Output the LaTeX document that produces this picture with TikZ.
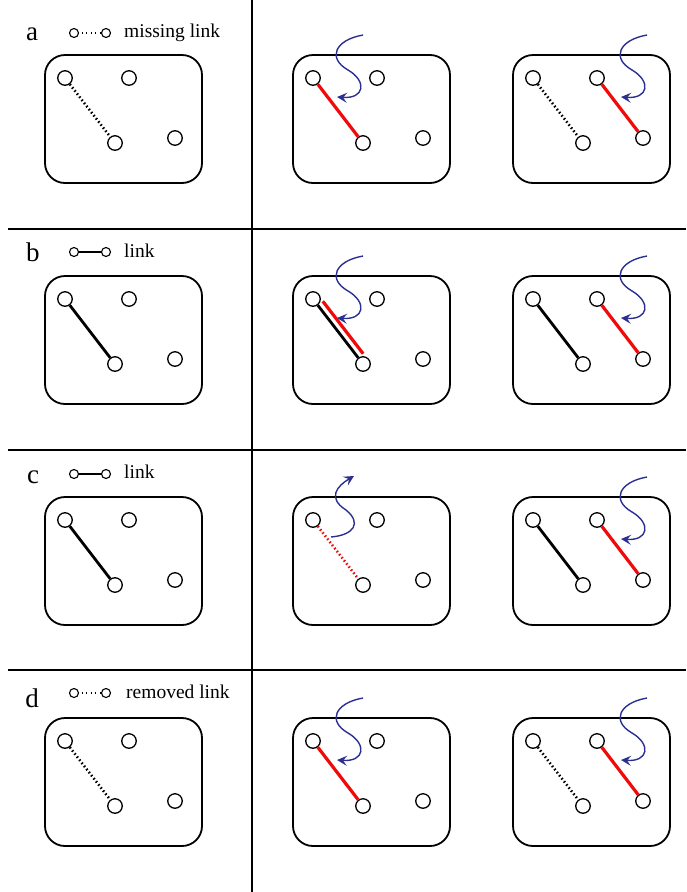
\documentclass[tikz,border=0pt]{standalone}
\usepackage{fontspec}
\setmainfont{Liberation Serif}
\usetikzlibrary{arrows.meta}
\definecolor{flowblue}{RGB}{43,47,145}
\definecolor{linkred}{RGB}{240,10,10}
\tikzset{
  vtx/.style={circle,draw,line width=1.3pt,minimum size=14.5pt,inner sep=0pt},
  legvtx/.style={circle,draw,line width=1.1pt,minimum size=9pt,inner sep=0pt},
  frame/.style={draw,line width=1.8pt,rounded corners=20pt},
  link/.style={line width=2.8pt},
  missing/.style={line width=2.6pt,dash pattern=on 1.5pt off 2.4pt},
  legmissing/.style={line width=1.1pt,dash pattern=on 1pt off 3.6pt,dash phase=-2.5pt},
  newlink/.style={link,draw=linkred,line width=3.2pt},
  divider/.style={line width=1.6pt},
  wiggle/.style={draw=flowblue,line width=1.4pt,-{Stealth[length=10pt,width=10pt,inset=4pt]}},
  rowlabel/.style={font=\fontsize{27}{30}\selectfont,anchor=base,inner sep=0pt},
  legtext/.style={font=\fontsize{19.5}{22}\selectfont,anchor=base west,inner sep=0pt},
  inflow/.pic={\draw[wiggle] (50,-43) .. controls (22,-38) and (14,-20) .. (35,-8)
      .. controls (54,3) and (52,21) .. (24,19);},
  outflow/.pic={\draw[wiggle] (18,17) .. controls (41,15) and (49,3) .. (33,-10)
      .. controls (14,-22) and (24,-34) .. (41,-44);}
}
\begin{document}
\begin{tikzpicture}[x=1pt,y=-1pt]
  \useasboundingbox (0,0) rectangle (686,892);
  % grid of the figure
  \draw[divider] (252,0) -- (252,892);
  \draw[divider] (8,229) -- (686,229);
  \draw[divider] (8,450) -- (686,450);
  \draw[divider] (8,670) -- (686,670);
  % frames with their four vertices
  \foreach \r/\y in {a/55,b/276,c/497,d/718}
    \foreach \p/\x in {1/45,2/293,3/513} {
      \draw[frame] (\x,\y) rectangle ++(157,128);
      \node[vtx] (\r\p-1) at (\x+20,\y+23) {};
      \node[vtx] (\r\p-2) at (\x+84,\y+23) {};
      \node[vtx] (\r\p-3) at (\x+70,\y+88) {};
      \node[vtx] (\r\p-4) at (\x+130,\y+83) {};
    }
  % row a
  \node[rowlabel] (la) at (32,40) {a};
  \node[legvtx] (la-1) at (74,33) {};
  \node[legvtx] (la-2) at (106,33) {};
  \draw[legmissing] (la-1) -- (la-2);
  \node[legtext] at (124,37.5) {missing link};
  \draw[missing] (a1-1) -- (a1-3);
  \draw[newlink] (a2-1) -- (a2-3);
  \pic at (a2-1) {inflow};
  \draw[missing] (a3-1) -- (a3-3);
  \draw[newlink] (a3-2) -- (a3-4);
  \pic at (a3-2) {inflow};
  % row b
  \node[rowlabel] (lb) at (33,261.5) {b};
  \node[legvtx] (lb-1) at (74,252) {};
  \node[legvtx] (lb-2) at (106,252) {};
  \draw[line width=1.3pt] (lb-1) -- (lb-2);
  \node[legtext] at (124,257.5) {link};
  \draw[link] (b1-1) -- (b1-3);
  \draw[link] (b2-1) -- (b2-3);
  \draw[newlink,transform canvas={xshift=5pt,yshift=4pt}] (b2-1) -- (b2-3);
  \pic at (b2-1) {inflow};
  \draw[link] (b3-1) -- (b3-3);
  \draw[newlink] (b3-2) -- (b3-4);
  \pic at (b3-2) {inflow};
  % row c
  \node[rowlabel] (lc) at (33,483) {c};
  \node[legvtx] (lc-1) at (74,474) {};
  \node[legvtx] (lc-2) at (106,474) {};
  \draw[line width=1.3pt] (lc-1) -- (lc-2);
  \node[legtext] at (124,478.5) {link};
  \draw[link] (c1-1) -- (c1-3);
  \draw[missing,draw=linkred] (c2-1) -- (c2-3);
  \pic at (c2-1) {outflow};
  \draw[link] (c3-1) -- (c3-3);
  \draw[newlink] (c3-2) -- (c3-4);
  \pic at (c3-2) {inflow};
  % row d
  \node[rowlabel] (ld) at (32,707) {d};
  \node[legvtx] (ld-1) at (74,693) {};
  \node[legvtx] (ld-2) at (106,693) {};
  \draw[legmissing] (ld-1) -- (ld-2);
  \node[legtext] at (126,698) {removed link};
  \draw[missing] (d1-1) -- (d1-3);
  \draw[newlink] (d2-1) -- (d2-3);
  \pic at (d2-1) {inflow};
  \draw[missing] (d3-1) -- (d3-3);
  \draw[newlink] (d3-2) -- (d3-4);
  \pic at (d3-2) {inflow};
\end{tikzpicture}
\end{document}
